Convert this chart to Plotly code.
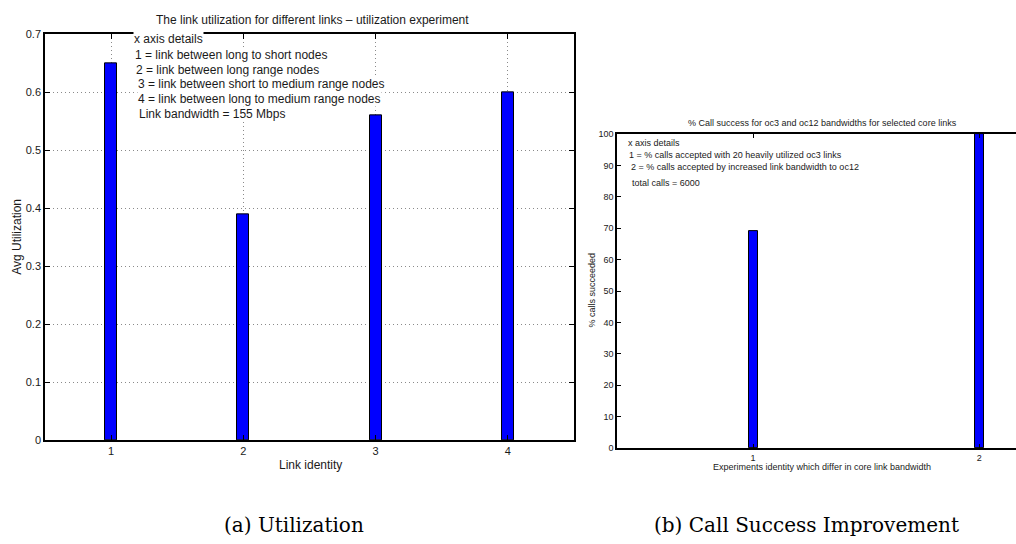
import plotly.graph_objects as go

# ---- data ----
link_ids = [1, 2, 3, 4]
avg_util = [0.65, 0.39, 0.56, 0.60]

experiment_ids = [1, 2]
pct_calls_succeeded = [69, 100]

util_notes = [
    "x axis details",
    "1 = link between long to short nodes",
    "2 = link between long range nodes",
    "3 = link between short to medium range nodes",
    "4 = link between long to medium range nodes",
    "Link bandwidth = 155 Mbps",
]
call_notes = [
    "x axis details",
    "1 = % calls accepted with 20 heavily utilized oc3 links",
    "2 = % calls accepted by increased link bandwidth to oc12",
    "total calls = 6000",
]

W, H = 1016, 544
SANS = "Liberation Sans, Arial, Helvetica, sans-serif"
SERIF = "DejaVu Serif, serif"
INK = "#1a1a1a"


def px(x):
    return x / W


def py(y):
    return (H - y) / H


fig = go.Figure()

fig.add_trace(go.Bar(
    x=link_ids, y=avg_util, width=0.09,
    marker=dict(color="#0000ff", line=dict(color="black", width=1)),
    xaxis="x", yaxis="y", showlegend=False,
))
fig.add_trace(go.Bar(
    x=experiment_ids, y=pct_calls_succeeded, width=0.04,
    marker=dict(color="#0000ff", line=dict(color="black", width=1)),
    xaxis="x2", yaxis="y2", showlegend=False,
))

axis_common = dict(
    showline=True, linecolor="black", linewidth=1.5,
    ticks="inside", tickcolor="black", zeroline=False,
)
grid_style = dict(showgrid=True, gridcolor="#8a8a8a", griddash="1px,3px", gridwidth=1)

fig.update_layout(
    width=W, height=H,
    margin=dict(l=0, r=0, t=0, b=0),
    paper_bgcolor="white", plot_bgcolor="white",
    font=dict(family=SANS, color=INK),
    bargap=0,
    xaxis=dict(
        domain=[px(45), px(574)], range=[0.5, 4.5],
        tickvals=link_ids, ticklen=5, mirror="ticks",
        tickfont=dict(size=11), anchor="y", **grid_style, **axis_common,
    ),
    yaxis=dict(
        domain=[py(444), py(29)], range=[0, 0.7],
        tickvals=[0, 0.1, 0.2, 0.3, 0.4, 0.5, 0.6, 0.7],
        ticktext=["0", "0.1", "0.2", "0.3", "0.4", "0.5", "0.6", "0.7"],
        ticklen=5, mirror="ticks",
        tickfont=dict(size=11), anchor="x", **grid_style, **axis_common,
    ),
    xaxis2=dict(
        domain=[px(617), 1.0], range=[0.398, 2.163],
        tickvals=experiment_ids, ticklen=4, mirror="ticks",
        showgrid=False, tickfont=dict(size=9), anchor="y2", **axis_common,
    ),
    yaxis2=dict(
        domain=[py(452), py(131)], range=[0, 100],
        tickvals=list(range(0, 101, 10)), ticklen=4, mirror=False,
        showgrid=False, tickfont=dict(size=9), anchor="x2", **axis_common,
    ),
)

annotations = []


def label(text, x, y, size, anchor="center", angle=0, family=SANS, bg=None):
    a = dict(
        text=text, x=px(x), y=py(y), xref="paper", yref="paper",
        xanchor=anchor, yanchor="middle", showarrow=False, textangle=angle,
        font=dict(family=family, size=size, color=INK if family == SANS else "black"),
    )
    if bg:
        a["bgcolor"] = bg
        a["borderpad"] = 0
    annotations.append(a)


# titles and axis labels, left panel
label("The link utilization for different links \u2013 utilization experiment", 312, 14, 12)
label("Avg Utilization", 17, 236, 12, angle=-90)
label("Link identity", 310, 469, 12)

# explanatory notes inside the left panel
util_pos = [(133, 34), (134, 50), (135, 65), (137, 80), (137, 95), (138, 110)]
for text, (x, y) in zip(util_notes, util_pos):
    label(text, x, y, 12, anchor="left", bg="white")

# titles and axis labels, right panel
label("% Call success for oc3 and oc12 bandwidths for selected core links", 822, 120, 9)
label("% calls succeeded", 592, 291, 9, angle=-90)
label("Experiments identity which differ in core link bandwidth", 822, 471, 9)

call_pos = [(626, 140), (627, 152), (629, 165), (630, 181)]
for text, (x, y) in zip(call_notes, call_pos):
    label(text, x, y, 9, anchor="left")

# sub-figure captions
label("(a) Utilization", 222, 531, 20, anchor="left", family=SERIF)
label("(b) Call Success Improvement", 652, 531, 20, anchor="left", family=SERIF)

fig.update_layout(annotations=annotations)

fig.write_html("out.html", config={"displayModeBar": False})
